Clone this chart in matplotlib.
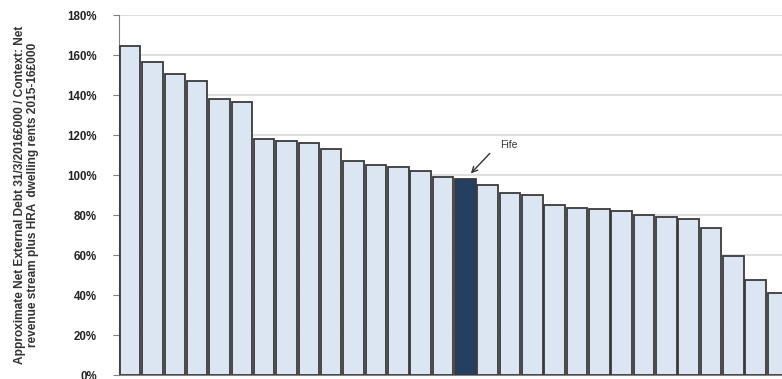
import matplotlib
matplotlib.use("Agg")
import matplotlib.pyplot as plt
import numpy as np

# Debt ratio per council, sorted descending (percent)
ratios = [164.6, 156.3, 150.5, 147.2, 138.2, 136.3, 117.8, 117.2, 115.8, 113.0,
          106.8, 105.0, 104.2, 101.8, 98.9, 97.8, 95.0, 90.8, 89.8, 85.0,
          83.7, 82.8, 81.8, 79.8, 78.8, 77.8, 73.7, 59.7, 47.3, 40.8]
highlight_index = 15
highlight_label = "Fife"
yticks = [0, 20, 40, 60, 80, 100, 120, 140, 160, 180]
ytick_labels = ["%d%%" % t for t in yticks]
ylabel_text = ("Approximate Net External Debt 31/3/2016£000 / Context: Net\n"
               "revenue stream plus HRA  dwelling rents 2015-16£000")

plt.rcParams['font.family'] = ['Liberation Sans', 'DejaVu Sans']

fig = plt.figure(figsize=(7.82, 3.79), dpi=100)
ax = fig.add_axes([119 / 782, 4 / 379, 1 - 119 / 782, 360 / 379])

x = np.arange(len(ratios))
colors = ["#dce6f2"] * len(ratios)
colors[highlight_index] = "#243f60"
ax.bar(x, ratios, width=0.92, color=colors, edgecolor="#3a3a3a", linewidth=1.3, zorder=3)

ax.set_ylim(0, 180)
ax.set_xlim(-0.5, 29.18)
ax.set_yticks(yticks)
ax.set_yticklabels(ytick_labels, fontsize=8.3, fontweight="bold", color="#222222")
ax.set_xticks([])
ax.yaxis.grid(True, color="#d9d9d9", linewidth=1.2, zorder=0)
ax.set_axisbelow(True)

ax.spines["top"].set_visible(False)
ax.spines["right"].set_visible(False)
ax.spines["left"].set_color("#808080")
ax.spines["bottom"].set_color("#808080")
ax.tick_params(axis="y", direction="out", length=4, color="#808080", pad=12)

ax.set_ylabel(ylabel_text, fontsize=8.6, fontweight="bold", color="#333333",
              labelpad=20, linespacing=1.1)

# Fife call-out: arrow plus label
hv = ratios[highlight_index]
ax.annotate("", xy=(highlight_index + 0.25, hv + 3),
            xytext=(highlight_index + 1.1, hv + 13),
            arrowprops=dict(arrowstyle="->", color="#333333", lw=1,
                            shrinkA=0, shrinkB=0), zorder=5)
ax.text(highlight_index + 1.55, hv + 17, highlight_label, fontsize=7.5,
        color="#333333", ha="left", va="center")

fig.savefig("out.png", dpi=100)
